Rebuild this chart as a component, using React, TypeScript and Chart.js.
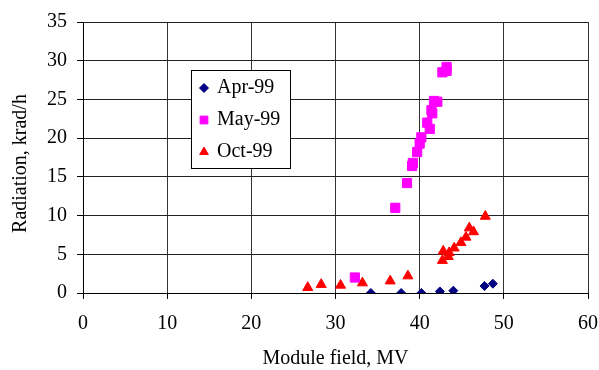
import React, { useEffect, useRef } from 'react';
import { Chart, registerables } from 'chart.js';
import { drawPoint } from 'chart.js/helpers';

Chart.register(...registerables);

// Module field, MV (x) and Radiation, krad/h (y)
const aprX = [34.2, 37.8, 40.2, 42.4, 44.0, 47.7, 48.7];
const aprY = [0, 0, 0, 0.2, 0.3, 0.9, 1.2];
const mayX = [32.3, 37.1, 38.5, 39.1, 39.2, 39.7, 40.0, 40.2, 40.9, 41.2, 41.4, 41.5, 41.7, 42.1, 42.7, 43.2, 43.2];
const mayY = [2.0, 11.0, 14.2, 16.4, 16.8, 18.2, 19.3, 20.1, 22.0, 21.2, 23.6, 23.2, 24.8, 24.7, 28.5, 28.7, 29.2];
const octX = [26.7, 28.3, 30.6, 33.2, 36.5, 38.6, 42.7, 42.8, 43.4, 43.5, 44.1, 44.9, 45.5, 45.9, 46.4, 47.8];
const octY = [0.7, 1.1, 1.0, 1.3, 1.55, 2.2, 4.2, 5.4, 4.7, 5.2, 5.8, 6.5, 7.2, 8.4, 7.9, 9.9];

const seriesNames = ['Apr-99', 'May-99', 'Oct-99'];
const xTicks = [0, 10, 20, 30, 40, 50, 60];
const yTicks = [0, 5, 10, 15, 20, 25, 30, 35];
const xTitle = 'Module field, MV';
const yTitle = 'Radiation, krad/h';

const FONT = '"Liberation Serif", "Times New Roman", serif';

const toPts = (xs: number[], ys: number[]) => xs.map((x, i) => ({ x, y: ys[i] }));

const legendPlugin = {
  id: 'boxLegend',
  afterDatasetsDraw(chart: any) {
    const ctx = chart.ctx as CanvasRenderingContext2D;
    ctx.save();
    ctx.fillStyle = '#ffffff';
    ctx.fillRect(191, 70, 100, 98);
    ctx.strokeStyle = '#000000';
    ctx.lineWidth = 1;
    ctx.strokeRect(191.5, 70.5, 99, 98);
    chart.data.datasets.forEach((ds: any, i: number) => {
      const y = 88 + i * 32;
      ctx.fillStyle = ds.backgroundColor;
      ctx.strokeStyle = ds.borderColor;
      ctx.lineWidth = 1;
      drawPoint(ctx, { pointStyle: ds.pointStyle, radius: ds.legendRadius, rotation: 0, borderWidth: 1 } as any, 204, y);
      ctx.fillStyle = '#000000';
      ctx.font = `20px ${FONT}`;
      ctx.textBaseline = 'middle';
      ctx.textAlign = 'left';
      ctx.fillText(ds.label, 217, y);
    });
    ctx.restore();
  },
};

const yTitlePlugin = {
  id: 'yTitle',
  afterDraw(chart: any) {
    const ctx = chart.ctx as CanvasRenderingContext2D;
    ctx.save();
    ctx.translate(20.5, 163.5);
    ctx.rotate(-Math.PI / 2);
    ctx.fillStyle = '#000000';
    ctx.font = `20px ${FONT}`;
    ctx.textBaseline = 'middle';
    ctx.textAlign = 'center';
    ctx.fillText(yTitle, 0, 0);
    ctx.restore();
  },
};

export default function App() {
  const ref = useRef<HTMLCanvasElement | null>(null);
  useEffect(() => {
    if (!ref.current) return;
    const chart = new Chart(ref.current, {
      type: 'scatter',
      data: {
        datasets: [
          {
            label: seriesNames[0],
            data: toPts(aprX, aprY),
            pointStyle: 'rectRot',
            pointRadius: 4.5,
            backgroundColor: '#000080',
            borderColor: '#000080',
            borderWidth: 1,
            legendRadius: 4.5,
          } as any,
          {
            label: seriesNames[1],
            data: toPts(mayX, mayY),
            pointStyle: 'rect',
            pointRadius: 6.5,
            backgroundColor: '#ff00ff',
            borderColor: '#ff00ff',
            borderWidth: 1,
            legendRadius: 5.5,
          } as any,
          {
            label: seriesNames[2],
            data: toPts(octX, octY),
            pointStyle: 'triangle',
            pointRadius: 5.8,
            backgroundColor: '#ff0000',
            borderColor: '#ff0000',
            borderWidth: 1,
            legendRadius: 5,
          } as any,
        ],
      },
      options: {
        responsive: false,
        animation: false,
        devicePixelRatio: 1,
        layout: { padding: { left: 0, right: 0, top: 16, bottom: 0 } },
        plugins: {
          legend: { display: false },
          tooltip: { enabled: false },
        },
        scales: {
          x: {
            type: 'linear',
            min: 0,
            max: 60,
            afterBuildTicks: (s: any) => {
              s.ticks = xTicks.map((v) => ({ value: v }));
            },
            afterFit: (s: any) => {
              s.height = 77;
              s.paddingRight = 11;
              s.paddingLeft = 0;
            },
            grid: { color: '#333333', lineWidth: 1, tickLength: 6, tickColor: '#000000' },
            border: { color: '#000000', width: 1 },
            ticks: { color: '#000000', font: { family: FONT, size: 20 }, padding: 13, maxRotation: 0 },
            title: {
              display: true,
              text: xTitle,
              color: '#000000',
              font: { family: FONT, size: 20, lineHeight: 1 },
              padding: { top: 0, bottom: 1 },
            },
          },
          y: {
            type: 'linear',
            min: 0,
            max: 35,
            afterBuildTicks: (s: any) => {
              s.ticks = yTicks.map((v) => ({ value: v }));
            },
            afterFit: (s: any) => {
              s.width = 83;
            },
            grid: { color: '#222222', lineWidth: 1, tickLength: 6, tickColor: '#000000' },
            border: { color: '#000000', width: 1 },
            ticks: { color: '#000000', font: { family: FONT, size: 20 }, padding: 10 },
            title: { display: false },
          },
        },
      },
      plugins: [legendPlugin, yTitlePlugin],
    });
    return () => chart.destroy();
  }, []);
  return (
    <div style={{ position: 'absolute', left: 0, top: 0, width: 599, height: 370, background: '#fff' }}>
      <canvas ref={ref} width={599} height={370} style={{ width: 599, height: 370, display: 'block' }} />
    </div>
  );
}
